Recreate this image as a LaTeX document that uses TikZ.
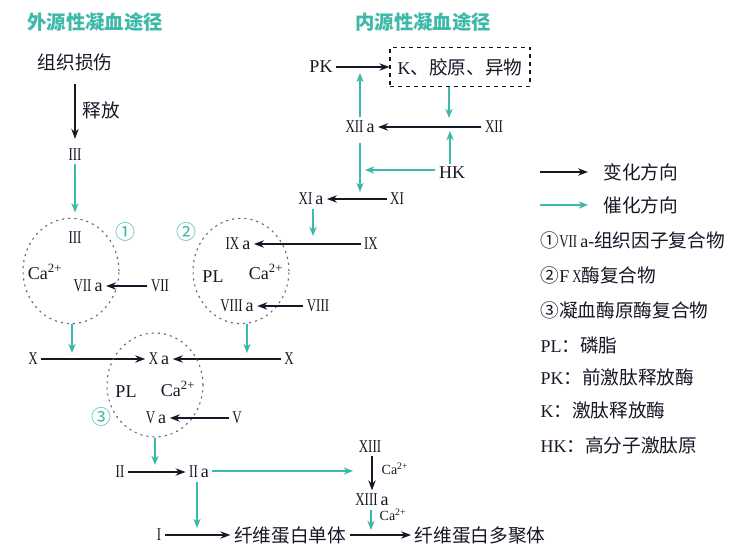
\documentclass[tikz,border=0pt]{standalone}
\usepackage{fontspec}
\usepackage{graphicx}
\setmainfont{Liberation Serif}
\newfontfamily\cjk{Noto Sans CJK SC}
\usetikzlibrary{arrows.meta,shapes.geometric}
\definecolor{tealc}{RGB}{60,185,168}
\definecolor{ink}{RGB}{22,24,38}
\newcommand{\R}[1]{\scalebox{0.72}[1]{#1}}
\newcommand{\Ca}{Ca\textsuperscript{2+}}
\begin{document}
\begin{tikzpicture}[x=0.75pt,y=-0.75pt,
  every node/.style={font=\fontsize{13.5}{16}\selectfont, inner sep=2.5pt, text=ink},
  zh/.style={font=\cjk\fontsize{14}{16}\selectfont},
  ttl/.style={font=\cjk\bfseries\fontsize{14.5}{16}\selectfont, text=tealc},
  chg/.style={draw=ink, line width=1.2pt, -{Stealth[length=7.5pt,width=5.5pt]}},
  cat/.style={draw=tealc, line width=0.9pt, -{Stealth[length=7pt,width=5.5pt]}},
  cplx/.style={ellipse, draw=gray!75!ink, line width=0.8pt, dash pattern=on 1.6pt off 3pt, minimum width=72pt, minimum height=79pt, inner sep=0pt},
  cnum/.style={font=\cjk\fontsize{15}{16}\selectfont, text=tealc},
  smallca/.style={font=\fontsize{10.5}{12}\selectfont},
  lg/.style={anchor=west, font=\fontsize{13.5}{16}\selectfont}
]
\fill[white] (0,0) rectangle (746,556);
\useasboundingbox (0,0) rectangle (746,556);

% titles
\node[ttl] (t1) at (95,22) {外源性凝血途径};
\node[ttl] (t2) at (423,22) {内源性凝血途径};

% extrinsic
\node[zh] (inj) at (75,62) {组织损伤};
\node (f3) at (75,155) {\R{III}};
\node[zh] (rel) at (101,110) {释放};
\draw[chg, shorten <=7pt, shorten >=5pt] (inj) -- (f3);

% complex 1
\node[cplx] (k1) at (71,271) {};
\node (c1f3) at (75,238) {\R{III}};
\node (ca1) at (45,272) {\Ca};
\node (f7a) at (88,286) {\R{VII}\,a};
\node (f7) at (160,286) {\R{VII}};
\node[cnum] (n1) at (125,232) {①};
\draw[chg] (f7) -- (f7a);
\draw[cat, shorten >=4pt] (f3) -- (f3 |- k1.north);

% intrinsic
\node (pk) at (321,67) {PK};
\node[draw=ink, dashed, line width=0.8pt, minimum width=105pt, minimum height=29pt] (kbox) at (460,67) {K{\cjk\fontsize{14}{16}\selectfont 、胶原、异物}};
\draw[chg] (pk) -- (kbox);
\node (f12a) at (360,127) {\R{XII}\,a};
\node (f12) at (494,127) {\R{XII}};
\draw[chg] (f12) -- (f12a);
\coordinate (k12) at (449,118);
\draw[cat] (k12 |- kbox.south) -- (k12);
\node (hk) at (452,173) {HK};
\coordinate (h12) at (450,131);
\draw[cat] (hk.north -| h12) -- (h12);
\coordinate (h11) at (365,170);
\draw[cat] (hk.west |- h11) -- (h11);
\coordinate (p12) at (360,73);
\draw[cat] (f12a.north) -- (p12);
\coordinate (d11) at (360,192);
\draw[cat, shorten <=5pt] (f12a.south) -- (d11);
\node (f11a) at (311,199) {\R{XI}\,a};
\node (f11) at (397,199) {\R{XI}};
\draw[chg] (f11) -- (f11a);
\coordinate (d9) at (313,236);
\draw[cat] (f11a.south -| d9) -- (d9);

% complex 2
\node[cplx] (k2) at (241,271) {};
\node[cnum] (n2) at (186,232) {②};
\node (f9a) at (238,244) {\R{IX}\,a};
\node (f9) at (371,244) {\R{IX}};
\draw[chg] (f9) -- (f9a);
\node (pl2) at (213,277) {PL};
\node (ca2) at (266,272) {\Ca};
\node (f8a) at (237,306) {\R{VIII}\,a};
\node (f8) at (318,306) {\R{VIII}};
\draw[chg] (f8) -- (f8a);

% factor X
\node (f10l) at (33,359) {\R{X}};
\node (f10a) at (159,359) {\R{X}\,a};
\node (f10r) at (289,359) {\R{X}};
\draw[chg] (f10l) -- (f10a);
\draw[chg] (f10r) -- (f10a);
\coordinate (d1) at (72,353);
\coordinate (d2) at (247,353);
\draw[cat] (d1 |- k1.south) -- (d1);
\draw[cat] (d2 |- k2.south) -- (d2);

% complex 3
\node[cplx, minimum height=78pt] (k3) at (155,385) {};
\node[cnum] (n3) at (101,417) {③};
\node (pl3) at (126,392) {PL};
\node (ca3) at (178,389) {\Ca};
\node (f5a) at (156,418) {\R{V}\,a};
\node (f5) at (237,418) {\R{V}};
\draw[chg] (f5) -- (f5a);

% thrombin
\coordinate (d3) at (155,465);
\draw[cat] (d3 |- k3.south) -- (d3);
\node (f2) at (120,472) {\R{II}};
\node (f2a) at (199,472) {\R{II}\,a};
\draw[chg] (f2) -- (f2a);
\coordinate (d13) at (353,471);
\draw[cat] (f2a.east |- d13) -- (d13);
\node (f13) at (370,447) {\R{XIII}};
\node (f13a) at (372,500) {\R{XIII}\,a};
\draw[chg] (f13.south -| f13a) -- (f13a.north);
\node[smallca] (cas1) at (395,469) {\Ca};
\coordinate (dp) at (371,530);
\draw[cat] (f13a.south -| dp) -- (dp);
\node[smallca] (cas2) at (393,515) {\Ca};

% fibrin
\node (f1) at (159,535) {\R{I}};
\node[zh] (mono) at (290,535) {纤维蛋白单体};
\node[zh] (poly) at (480,535) {纤维蛋白多聚体};
\draw[chg] (f1) -- (mono);
\draw[chg] (mono) -- (poly);
\coordinate (dm) at (197,528);
\draw[cat] (f2a.south -| dm) -- (dm);

% legend
\coordinate (la1) at (540,172);
\coordinate (lb1) at (588,172);
\draw[chg] (la1) -- (lb1);
\node[zh, anchor=west] (lt1) at (600,172) {变化方向};
\coordinate (la2) at (540,205);
\coordinate (lb2) at (588,205);
\draw[cat] (la2) -- (lb2);
\node[zh, anchor=west] (lt2) at (600,205) {催化方向};
\node[lg] (l1) at (537,240) {{\cjk\fontsize{14}{16}\selectfont ①}\R{VII}\,a-{\cjk\fontsize{14}{16}\selectfont 组织因子复合物}};
\node[lg] (l2) at (537,275) {{\cjk\fontsize{14}{16}\selectfont ②}F\,\R{X}{\cjk\fontsize{14}{16}\selectfont 酶复合物}};
\node[lg] (l3) at (537,310) {{\cjk\fontsize{14}{16}\selectfont ③凝血酶原酶复合物}};
\node[lg] (l4) at (537,345) {PL{\cjk\fontsize{14}{16}\selectfont ：磷脂}};
\node[lg] (l5) at (537,377) {PK{\cjk\fontsize{14}{16}\selectfont ：前激肽释放酶}};
\node[lg] (l6) at (537,410) {K{\cjk\fontsize{14}{16}\selectfont ：激肽释放酶}};
\node[lg] (l7) at (537,445) {HK{\cjk\fontsize{14}{16}\selectfont ：高分子激肽原}};
\end{tikzpicture}
\end{document}
